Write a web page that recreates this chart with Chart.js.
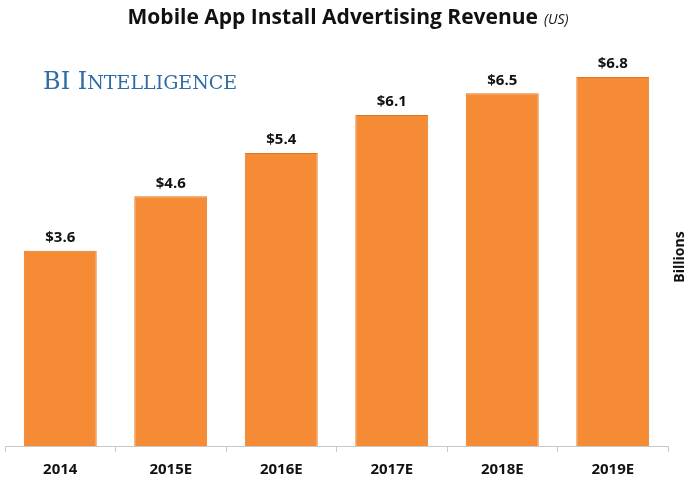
<!DOCTYPE html>
<html>
<head>
<meta charset="utf-8">
<script src="https://cdn.jsdelivr.net/npm/chart.js@4.4.1/dist/chart.umd.min.js"></script>
<style>
html,body{margin:0;padding:0;background:#fff;}
#wrap{width:698px;height:488px;position:relative;}
</style>
</head>
<body>
<div id="wrap"><canvas id="c" width="698" height="488"></canvas></div>
<script>
const categories = ["2014", "2015E", "2016E", "2017E", "2018E", "2019E"];
const revenue = [3.6, 4.6, 5.4, 6.1, 6.5, 6.8];
const valueLabels = ["$3.6", "$4.6", "$5.4", "$6.1", "$6.5", "$6.8"];
const titleMain = "Mobile App Install Advertising Revenue";
const titleSub = "(US)";
const unitLabel = "Billions";

const FONT = "'Open Sans', 'DejaVu Sans', sans-serif";

const decor = {
  id: 'decor',
  afterDatasetsDraw(chart) {
    const ctx = chart.ctx;
    const meta = chart.getDatasetMeta(0);
    ctx.save();
    ctx.fillStyle = '#111';
    ctx.font = "bold 15px " + FONT;
    ctx.textAlign = 'center';
    ctx.textBaseline = 'middle';
    meta.data.forEach((bar, i) => {
      ctx.fillText(valueLabels[i], bar.x, bar.y - 13);
    });
    ctx.restore();
  },
  afterDraw(chart) {
    const ctx = chart.ctx;
    ctx.save();
    ctx.fillStyle = '#111';
    ctx.textBaseline = 'middle';
    ctx.textAlign = 'left';
    ctx.font = "bold 21px " + FONT;
    const w1 = ctx.measureText(titleMain).width;
    ctx.font = "italic 14px " + FONT;
    const w2 = ctx.measureText(titleSub).width;
    const total = w1 + 6 + w2;
    const x0 = 348 - total / 2;
    ctx.font = "bold 21px " + FONT;
    ctx.fillText(titleMain, x0, 18);
    ctx.font = "italic 14px " + FONT;
    ctx.fillText(titleSub, x0 + w1 + 6, 20);
    // BI Intelligence
    ctx.fillStyle = '#2f6ca6';
    ctx.textBaseline = 'alphabetic';
    let x = 43;
    const base = 89;
    ctx.font = "24px 'DejaVu Serif', 'Liberation Serif', serif";
    ctx.fillText("BI", x, base);
    x += ctx.measureText("BI ").width;
    ctx.fillText("I", x, base);
    x += ctx.measureText("I").width;
    ctx.font = "19px 'DejaVu Serif', 'Liberation Serif', serif";
    ctx.fillText("NTELLIGENCE", x, base);
    // Billions
    ctx.fillStyle = '#111';
    ctx.translate(680, 257);
    ctx.rotate(-Math.PI / 2);
    ctx.textAlign = 'center';
    ctx.textBaseline = 'middle';
    ctx.font = "bold 14px " + FONT;
    ctx.fillText(unitLabel, 0, 0);
    ctx.restore();
  }
};

new Chart(document.getElementById('c'), {
  type: 'bar',
  data: {
    labels: categories,
    datasets: [{
      data: revenue,
      backgroundColor: '#f68b35',
      borderColor: '#e27720',
      borderWidth: 1,
      categoryPercentage: 0.66,
      barPercentage: 1.0
    }]
  },
  options: {
    responsive: false,
    animation: false,
    devicePixelRatio: 1,
    layout: { padding: { left: 5, right: 30, top: 39, bottom: 0 } },
    plugins: { legend: { display: false }, tooltip: { enabled: false }, title: { display: false } },
    scales: {
      y: { display: false, min: 0, max: 7.5 },
      x: {
        offset: true,
        grid: { display: true, drawOnChartArea: false, drawTicks: true, tickLength: 6, color: '#c8c8c8', offset: true },
        border: { display: true, color: '#c8c8c8', width: 1 },
        ticks: { color: '#111', font: { family: FONT, size: 15, weight: 'bold' }, padding: 9 }
      }
    }
  },
  plugins: [decor]
});
</script>
</body>
</html>
